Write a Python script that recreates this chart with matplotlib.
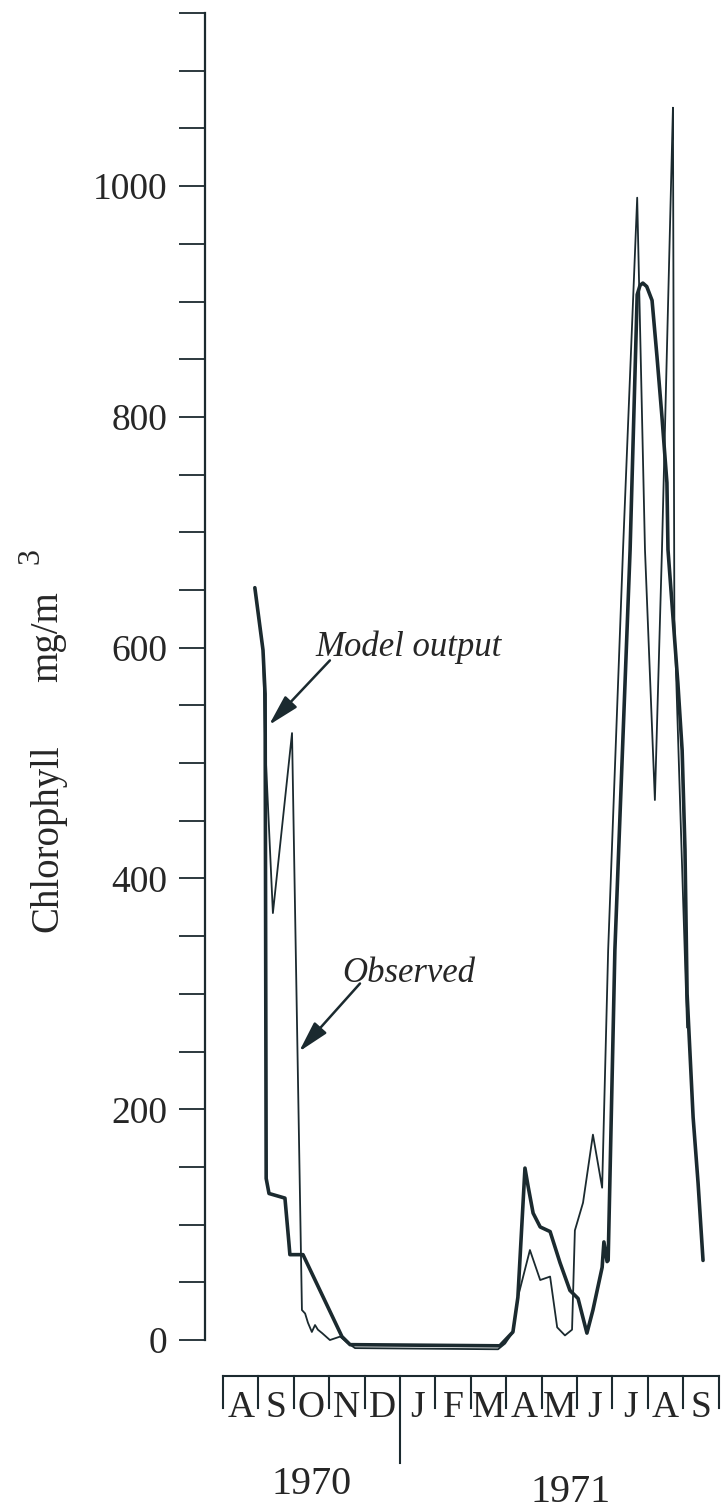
import matplotlib
matplotlib.use('Agg')
import matplotlib.pyplot as plt
from matplotlib.transforms import blended_transform_factory
import numpy as np

# ---------------- data ----------------
# time axis: months since 1 Aug 1970
months = ['A', 'S', 'O', 'N', 'D', 'J', 'F', 'M', 'A', 'M', 'J', 'J', 'A', 'S']
years = ['1970', '1971']
year_pos = [2.5, 9.83]

model_t = [0.90, 1.13, 1.19, 1.22, 1.30, 1.75, 1.86, 1.89, 2.26, 3.36, 3.59,
           7.82, 8.19, 8.33, 8.53, 8.62, 8.76, 8.96, 9.24, 9.52, 9.80, 10.03,
           10.28, 10.45, 10.71, 10.76, 10.85, 10.88, 11.07, 11.50, 11.70, 11.78,
           11.86, 11.97, 12.12, 12.26, 12.40, 12.54, 12.57, 12.71, 12.85, 12.97,
           13.05, 13.11, 13.28, 13.42, 13.56]
model_v = [652, 598, 560, 140, 127, 123, 85, 74, 74, 3, -4,
           -5, 7, 37, 149, 133, 110, 98, 94, 67, 43, 36,
           6, 26, 63, 85, 68, 69, 338, 685, 906, 914,
           916, 913, 901, 852, 800, 743, 685, 627, 569, 511,
           425, 300, 193, 136, 69]

obs_t = [0.90, 1.13, 1.19, 1.41, 1.95, 2.23, 2.32, 2.40, 2.51, 2.60, 2.68,
         2.80, 3.02, 3.31, 3.50, 3.73, 7.77, 7.97, 8.19, 8.33, 8.67, 8.96,
         9.24, 9.44, 9.66, 9.86, 9.94, 10.17, 10.45, 10.71, 10.88, 11.30,
         11.70, 11.92, 12.20, 12.40, 12.68, 12.71, 12.75, 13.11]
obs_v = [652, 598, 517, 370, 526, 26, 23, 15, 7, 13, 9,
         6, 0, 3, -2, -7, -8, -3, 7, 37, 78, 52,
         55, 11, 4, 9, 95, 119, 178, 132, 338, 685,
         990, 685, 468, 685, 1031, 1068, 625, 271]

ytick_values = list(range(0, 1151, 50))
ytick_labels = [str(v) if v % 200 == 0 and v <= 1000 else '' for v in ytick_values]

# ---------------- figure ----------------
W, H = 723, 1512
ink = '#1b2a2f'
txt = '#262626'
serif = ['Liberation Serif', 'DejaVu Serif']

fig = plt.figure(figsize=(W / 100, H / 100), dpi=100)
fig.patch.set_facecolor('white')
ax = fig.add_axes([205 / W, (H - 1360) / H, 518 / W, 1355 / H])
ax.set_xlim(-0.508, 14.124)
ax.set_ylim(-17.3, 1157)

for s in ['top', 'right', 'bottom']:
    ax.spines[s].set_visible(False)
ax.spines['left'].set_bounds(0, 1150)
ax.spines['left'].set_linewidth(1.6)
ax.spines['left'].set_color(ink)
ax.set_xticks([])
ax.set_yticks(ytick_values)
ax.set_yticklabels(ytick_labels, fontfamily=serif, fontsize=27, color=txt)
ax.tick_params(axis='y', length=19, width=1.3, color=ink, pad=8)
ax.patch.set_alpha(0)

ax.plot(model_t, model_v, color=ink, lw=2.6, solid_joinstyle='round',
        solid_capstyle='round', clip_on=False)
ax.plot(obs_t, obs_v, color=ink, lw=1.3, solid_joinstyle='round',
        clip_on=False)

# annotations
arrow = dict(arrowstyle='-|>,head_length=1.9,head_width=0.5', lw=1.8,
             color=ink, shrinkA=0, shrinkB=0)
ax.annotate('', xy=(1.30, 533), xytext=(3.02, 589), arrowprops=arrow)
ax.annotate('', xy=(2.15, 250), xytext=(3.87, 309), arrowprops=arrow)
ax.text(2.60, 600, 'Model output', fontfamily=serif, style='italic',
        fontsize=25, color=txt, ha='left', va='center')
ax.text(3.36, 318, 'Observed', fontfamily=serif, style='italic',
        fontsize=25, color=txt, ha='left', va='center')

# y label
def fy(ypx):
    return 1 - ypx / H

fig.text(48 / W, fy(838), 'Chlorophyll', rotation=90, ha='center', va='center',
         fontfamily=serif, fontsize=28, color=txt)
fig.text(48 / W, fy(637), 'mg/m', rotation=90, ha='center', va='center',
         fontfamily=serif, fontsize=28, color=txt)
fig.text(31 / W, fy(556), '3', rotation=90, ha='center', va='center',
         fontfamily=serif, fontsize=23, color=txt)

# month strip
trans = blended_transform_factory(ax.transData, fig.transFigure)
n = len(months)
ax.plot([0, n], [fy(1376), fy(1376)], color=ink, lw=1.5, transform=trans,
        clip_on=False)
for k in range(n + 1):
    bottom = 1463 if k == 5 else 1408
    ax.plot([k, k], [fy(1376), fy(bottom)], color=ink, lw=1.5,
            transform=trans, clip_on=False)
for k, m in enumerate(months):
    ax.text(k + 0.5, fy(1408), m, transform=trans, ha='center', va='center',
            fontfamily=serif, fontsize=27, color=txt)
ax.text(year_pos[0], fy(1485), years[0], transform=trans, ha='center',
        va='center', fontfamily=serif, fontsize=29, color=txt)
ax.text(year_pos[1], fy(1492), years[1], transform=trans, ha='center',
        va='center', fontfamily=serif, fontsize=29, color=txt)

fig.savefig('out.png', dpi=100, facecolor='white')
